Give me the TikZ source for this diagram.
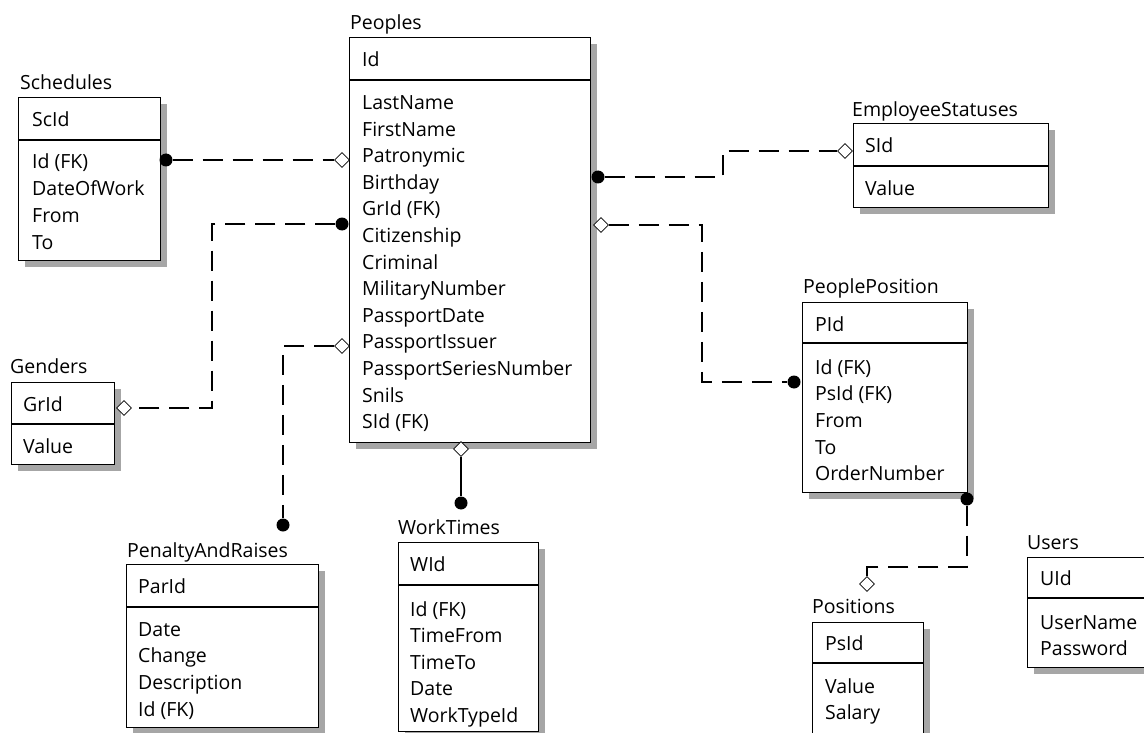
\documentclass[tikz,border=0pt]{standalone}
\usepackage{fontspec}
\setmainfont{Open Sans}
\usetikzlibrary{shapes.geometric,shadows}
\begin{document}
\begin{tikzpicture}[
    x=1pt, y=-1pt,
    tbl/.style={draw, fill=white, line width=1.2pt, anchor=north west, inner sep=0pt,
      drop shadow={shadow xshift=6pt, shadow yshift=-6pt, fill=gray!70, opacity=1}},
    div/.style={line width=1.2pt},
    title/.style={anchor=west, inner sep=0pt, text height=14pt, text depth=0pt, font=\fontsize{19.5}{22}\selectfont},
    field/.style={anchor=west, inner sep=0pt, text height=14pt, text depth=0pt, font=\fontsize{19.5}{22}\selectfont},
    rel/.style={line width=1.1pt, dash pattern=on 20pt off 10pt},
    dot/.style={circle, fill=black, inner sep=0pt, minimum size=13pt},
    diam/.style={diamond, draw, fill=white, inner sep=0pt, minimum size=15pt, line width=0.8pt}
  ]
  \clip (0,0) rectangle (1144,733);

  % Tables
  \node[tbl, minimum width=142, minimum height=163] (schedules) at (18,97) {};
  \draw[div] (schedules.west |- 0,140) -- (schedules.east |- 0,140);
  \node[title] (schedules-t) at (20,83) {Schedules};
  \node[field] (schedules-k) at (32,120) {ScId};
  \foreach \f [count=\i] in {Id (FK), DateOfWork, From, To}
    \node[field] (schedules-\i) at (32,{162+26.7*(\i-1)}) {\f};

  \node[tbl, minimum width=241, minimum height=405] (peoples) at (349,37) {};
  \draw[div] (peoples.west |- 0,80) -- (peoples.east |- 0,80);
  \node[title] (peoples-t) at (350,23) {Peoples};
  \node[field] (peoples-k) at (362,60) {Id};
  \foreach \f [count=\i] in {LastName, FirstName, Patronymic, Birthday, GrId (FK), Citizenship,
      Criminal, MilitaryNumber, PassportDate, PassportIssuer, PassportSeriesNumber, Snils, SId (FK)}
    \node[field] (peoples-\i) at (362,{102.5+26.6*(\i-1)}) {\f};

  \node[tbl, minimum width=195, minimum height=84] (statuses) at (853,123) {};
  \draw[div] (statuses.west |- 0,166) -- (statuses.east |- 0,166);
  \node[title] (statuses-t) at (852,110) {EmployeeStatuses};
  \node[field] (statuses-k) at (865,146) {SId};
  \node[field] (statuses-1) at (865,189) {Value};

  \node[tbl, minimum width=165, minimum height=190] (pplpos) at (802,302) {};
  \draw[div] (pplpos.west |- 0,343) -- (pplpos.east |- 0,343);
  \node[title] (pplpos-t) at (803,286) {PeoplePosition};
  \node[field] (pplpos-k) at (815,324) {PId};
  \foreach \f [count=\i] in {Id (FK), PsId (FK), From, To, OrderNumber}
    \node[field] (pplpos-\i) at (815,{367+26.7*(\i-1)}) {\f};

  \node[tbl, minimum width=103, minimum height=82] (genders) at (11,382) {};
  \draw[div] (genders.west |- 0,424) -- (genders.east |- 0,424);
  \node[title] (genders-t) at (10,366) {Genders};
  \node[field] (genders-k) at (23,404) {GrId};
  \node[field] (genders-1) at (23,446) {Value};

  \node[tbl, minimum width=192, minimum height=163] (penalty) at (126,564) {};
  \draw[div] (penalty.west |- 0,607) -- (penalty.east |- 0,607);
  \node[title] (penalty-t) at (127,550) {PenaltyAndRaises};
  \node[field] (penalty-k) at (138,586) {ParId};
  \foreach \f [count=\i] in {Date, Change, Description, Id (FK)}
    \node[field] (penalty-\i) at (138,{629+26.7*(\i-1)}) {\f};

  \node[tbl, minimum width=140, minimum height=189] (worktimes) at (398,542) {};
  \draw[div] (worktimes.west |- 0,585) -- (worktimes.east |- 0,585);
  \node[title] (worktimes-t) at (398,527) {WorkTimes};
  \node[field] (worktimes-k) at (410,564) {WId};
  \foreach \f [count=\i] in {Id (FK), TimeFrom, TimeTo, Date, WorkTypeId}
    \node[field] (worktimes-\i) at (410,{609+26.5*(\i-1)}) {\f};

  \node[tbl, minimum width=111, minimum height=118] (positions) at (812,622) {};
  \draw[div] (positions.west |- 0,663) -- (positions.east |- 0,663);
  \node[title] (positions-t) at (812,606) {Positions};
  \node[field] (positions-k) at (825,643) {PsId};
  \foreach \f [count=\i] in {Value, Salary}
    \node[field] (positions-\i) at (825,{686+26.5*(\i-1)}) {\f};

  \node[tbl, minimum width=133, minimum height=110] (users) at (1027,557) {};
  \draw[div] (users.west |- 0,598) -- (users.east |- 0,598);
  \node[title] (users-t) at (1027,542) {Users};
  \node[field] (users-k) at (1040,578) {UId};
  \foreach \f [count=\i] in {UserName, Password}
    \node[field] (users-\i) at (1040,{622+26*(\i-1)}) {\f};

  % Relationship ends
  \node[dot] (sc-dot) at (166,160) {};
  \node[diam] (sc-diam) at (342,160) {};
  \node[dot] (gr-dot) at (342,224) {};
  \node[diam] (gr-diam) at (124,408) {};
  \coordinate (gr-bend) at (212,408);
  \node[diam] (pr-diam) at (342,346) {};
  \node[dot] (pr-dot) at (283,525) {};
  \node[diam] (wt-diam) at (461,449) {};
  \node[dot] (wt-dot) at (461,503) {};
  \node[dot] (es-dot) at (598,177) {};
  \coordinate (es-bend) at (723,151);
  \node[diam] (es-diam) at (845,151) {};
  \node[diam] (pp-diam) at (601,225) {};
  \coordinate (pp-bend) at (702,382);
  \node[dot] (pp-dot) at (794,382) {};
  \node[dot] (po-dot) at (967,499) {};
  \coordinate (po-bend) at (867,567);
  \node[diam] (po-diam) at (867,584) {};

  % Relationships
  \draw[rel] (sc-dot) -- (sc-diam);
  \draw[rel] (gr-dot) -| (gr-bend) -- (gr-diam);
  \draw[rel] (pr-diam) -| (pr-dot);
  \draw[line width=1.1pt] (wt-diam) -- (wt-dot);
  \draw[rel] (es-dot) -| (es-bend) -- (es-diam);
  \draw[rel] (pp-diam) -| (pp-bend) -- (pp-dot);
  \draw[rel] (po-dot) |- (po-bend) -- (po-diam);

\end{tikzpicture}
\end{document}
